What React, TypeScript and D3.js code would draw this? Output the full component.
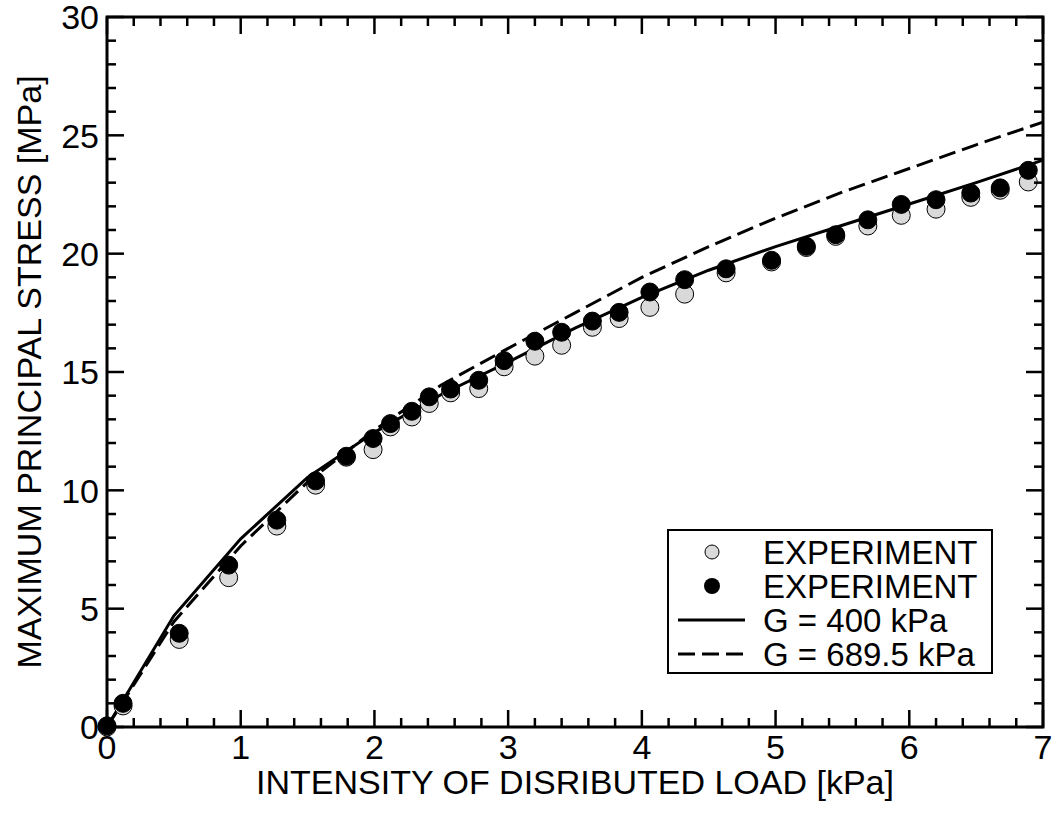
import * as d3 from "d3";

// experiment points
const expX = [0, 0.12, 0.54, 0.91, 1.27, 1.56, 1.79, 1.99, 2.12, 2.28, 2.41, 2.57, 2.78, 2.97, 3.2, 3.4, 3.63, 3.83, 4.06, 4.32, 4.63, 4.97, 5.23, 5.45, 5.69, 5.94, 6.2, 6.46, 6.68, 6.89];
const expBlack = [0.05, 1.0, 3.96, 6.84, 8.74, 10.4, 11.44, 12.19, 12.82, 13.34, 13.95, 14.28, 14.65, 15.48, 16.3, 16.68, 17.15, 17.52, 18.38, 18.9, 19.36, 19.72, 20.31, 20.8, 21.43, 22.08, 22.28, 22.56, 22.78, 23.52];
const expGrey = [0.0, 0.89, 3.7, 6.31, 8.49, 10.22, 11.4, 11.72, 12.68, 13.1, 13.67, 14.12, 14.3, 15.22, 15.67, 16.13, 16.89, 17.26, 17.73, 18.29, 19.19, 19.65, 20.26, 20.73, 21.17, 21.62, 21.88, 22.38, 22.68, 23.03];

// model curves
const modelX = [0, 0.5, 1, 1.5, 2, 2.5, 3, 3.5, 4, 4.5, 5, 5.5, 6, 6.5, 7];
const g400 = [0, 4.7, 7.95, 10.55, 12.45, 14.05, 15.42, 16.85, 18.15, 19.3, 20.3, 21.2, 22.1, 23.0, 23.95];
const g689 = [0, 4.45, 7.65, 10.35, 12.55, 14.45, 16.0, 17.5, 19.0, 20.3, 21.5, 22.6, 23.6, 24.6, 25.56];

const xLabel = "INTENSITY OF DISRIBUTED LOAD [kPa]";
const yLabel = "MAXIMUM PRINCIPAL STRESS [MPa]";
const legendLabels = ["EXPERIMENT", "EXPERIMENT", "G = 400 kPa", "G = 689.5 kPa"];

const W = 1056;
const H = 816;
const FONT = "'Liberation Sans', Arial, Helvetica, sans-serif";
const FS = 34;
const GREY = "#d9d9d9";

export default function App() {
  const left = 107, right = 1043, top = 17, bottom = 727;
  const x = d3.scaleLinear().domain([0, 7]).range([left, right]);
  const y = d3.scaleLinear().domain([0, 30]).range([bottom, top]);

  const line = d3.line<[number, number]>()
    .x(d => x(d[0]))
    .y(d => y(d[1]));

  const xMajor = x.ticks(7);
  const xMinor = d3.range(0, 7.0001, 0.2).filter(v => Math.abs(v - Math.round(v)) > 1e-6);
  const yMajor = y.ticks(6);
  const yMinor = d3.range(0, 30.0001, 1).filter(v => v % 5 !== 0);

  const majLen = 17, minLen = 9;

  // legend placement
  const lx = 668, ly = 530, lw = 324, lh = 143;
  const rowY = (i: number) => ly + 22 + i * 34;

  return (
    <svg width={W} height={H} style={{ position: "absolute", left: 0, top: 0, background: "#fff" }}
      fontFamily={FONT} fontSize={FS}>
      <rect width={W} height={H} fill="#fff" />

      {/* model curves */}
      <path d={line(modelX.map((v, i) => [v, g400[i]]))!} fill="none" stroke="#000" strokeWidth={3} />
      <path d={line(modelX.map((v, i) => [v, g689[i]]))!} fill="none" stroke="#000" strokeWidth={3}
        strokeDasharray="17,7" />

      {/* experiments */}
      {expX.map((v, i) => (
        <circle key={"g" + i} cx={x(v)} cy={y(expGrey[i])} r={9} fill={GREY} stroke="#000" strokeWidth={1} />
      ))}
      {expX.map((v, i) => (
        <circle key={"b" + i} cx={x(v)} cy={y(expBlack[i])} r={9} fill="#000" stroke="#000" strokeWidth={1} />
      ))}

      {/* ticks, inward on all four sides */}
      <g stroke="#000" strokeWidth={2.5}>
        {xMajor.map(v => (
          <g key={"xm" + v}>
            <line x1={x(v)} x2={x(v)} y1={bottom} y2={bottom - majLen} />
            <line x1={x(v)} x2={x(v)} y1={top} y2={top + majLen} />
          </g>
        ))}
        {xMinor.map(v => (
          <g key={"xn" + v}>
            <line x1={x(v)} x2={x(v)} y1={bottom} y2={bottom - minLen} />
            <line x1={x(v)} x2={x(v)} y1={top} y2={top + minLen} />
          </g>
        ))}
        {yMajor.map(v => (
          <g key={"ym" + v}>
            <line x1={left} x2={left + majLen} y1={y(v)} y2={y(v)} />
            <line x1={right} x2={right - majLen} y1={y(v)} y2={y(v)} />
          </g>
        ))}
        {yMinor.map(v => (
          <g key={"yn" + v}>
            <line x1={left} x2={left + minLen} y1={y(v)} y2={y(v)} />
            <line x1={right} x2={right - minLen} y1={y(v)} y2={y(v)} />
          </g>
        ))}
      </g>

      <rect x={left} y={top} width={right - left} height={bottom - top} fill="none" stroke="#000" strokeWidth={3} />

      {/* tick labels */}
      {xMajor.map(v => (
        <text key={"xl" + v} x={x(v)} y={bottom + 32} textAnchor="middle">{v}</text>
      ))}
      {yMajor.map(v => (
        <text key={"yl" + v} x={left - 8} y={y(v)} dy="0.36em" textAnchor="end">{v}</text>
      ))}

      {/* axis titles */}
      <text x={(left + right) / 2} y={bottom + 67} textAnchor="middle">{xLabel}</text>
      <text transform={`translate(41,${(top + bottom) / 2}) rotate(-90)`} textAnchor="middle">{yLabel}</text>

      {/* legend */}
      <rect x={lx} y={ly} width={lw} height={lh} fill="#fff" stroke="#000" strokeWidth={2} />
      <circle cx={712} cy={rowY(0)} r={7} fill={GREY} stroke="#000" strokeWidth={1} />
      <circle cx={712} cy={rowY(1)} r={8} fill="#000" />
      <line x1={678} x2={745} y1={rowY(2)} y2={rowY(2)} stroke="#000" strokeWidth={3} />
      <line x1={678} x2={745} y1={rowY(3)} y2={rowY(3)} stroke="#000" strokeWidth={3} strokeDasharray="17,7" />
      {legendLabels.map((t, i) => (
        <text key={"lg" + i} x={763} y={rowY(i)} dy="0.36em" fontSize={33}>{t}</text>
      ))}
    </svg>
  );
}
